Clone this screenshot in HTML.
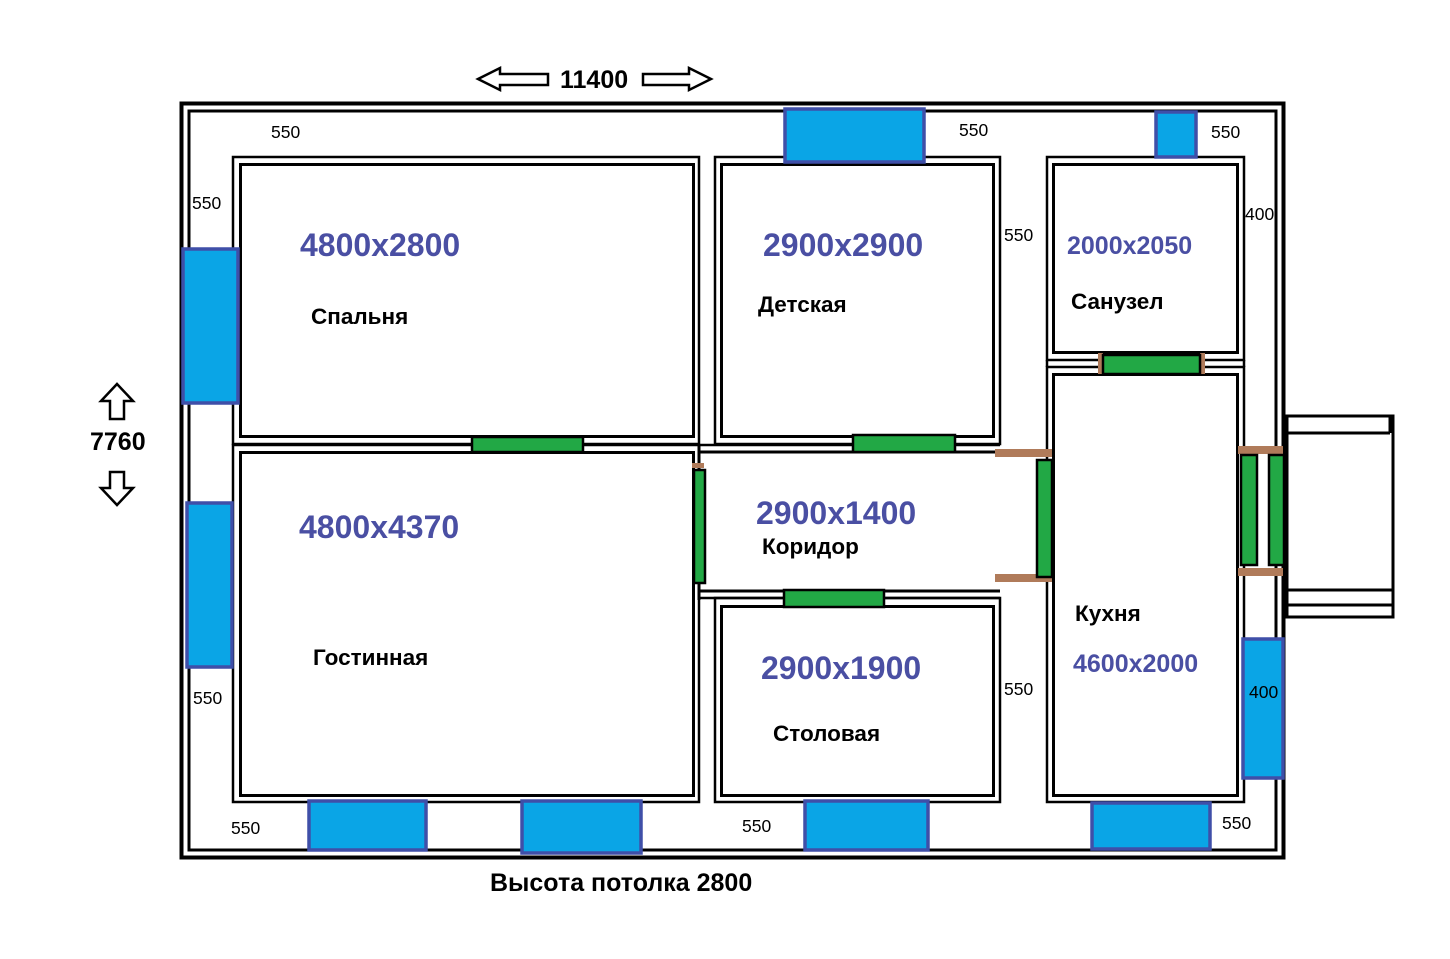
<!DOCTYPE html>
<html><head><meta charset="utf-8"><style>
html,body{margin:0;padding:0;background:#fff;}
svg{display:block;}
.d{font-family:"Liberation Sans",sans-serif;font-weight:bold;fill:#4a4fa3;font-size:32px;}
.n{font-family:"Liberation Sans","DejaVu Sans",sans-serif;font-weight:bold;fill:#000;font-size:22.5px;}
.s{font-family:"Liberation Sans",sans-serif;fill:#000;font-size:17.5px;}
</style></head><body>
<svg width="1450" height="959" viewBox="0 0 1450 959" xmlns="http://www.w3.org/2000/svg">
<g fill="none" stroke="#000">
<rect x="181.5" y="103.5" width="1102" height="754" stroke-width="4"/>
<rect x="189" y="111" width="1087" height="739" stroke-width="3"/>
<rect x="233" y="157" width="466" height="287" stroke-width="2.5"/>
<rect x="240.5" y="164.5" width="453" height="272" stroke-width="3"/>
<rect x="233" y="445" width="466" height="357" stroke-width="2.5"/>
<rect x="240.5" y="452.5" width="453" height="343" stroke-width="3"/>
<rect x="715" y="157" width="285" height="287" stroke-width="2.5"/>
<rect x="721.5" y="164.5" width="272" height="272" stroke-width="3"/>
<rect x="715" y="598" width="285" height="204" stroke-width="2.5"/>
<rect x="721.5" y="606.5" width="272" height="189" stroke-width="3"/>
<rect x="1047" y="157" width="197" height="203" stroke-width="2.5"/>
<rect x="1053.5" y="164.5" width="184" height="188" stroke-width="3"/>
<rect x="1047" y="367" width="197" height="435" stroke-width="2.5"/>
<rect x="1053.5" y="374.5" width="184" height="421" stroke-width="3"/>
<line x1="700" y1="445" x2="1000" y2="445" stroke-width="2.5"/>
<line x1="700" y1="452" x2="1000" y2="452" stroke-width="3"/>
<line x1="700" y1="591" x2="1000" y2="591" stroke-width="3"/>
<line x1="700" y1="598" x2="1000" y2="598" stroke-width="2.5"/>
<line x1="699" y1="445" x2="699" y2="600" stroke-width="3"/>
<line x1="1047" y1="360" x2="1047" y2="367" stroke-width="2.5"/>
<line x1="1244" y1="360" x2="1244" y2="367" stroke-width="2.5"/>
<rect x="1287" y="416" width="106" height="201" stroke-width="3"/>
<line x1="1287" y1="433" x2="1390" y2="433" stroke-width="3"/>
<line x1="1390" y1="416" x2="1390" y2="433" stroke-width="3"/>
<line x1="1287" y1="590" x2="1393" y2="590" stroke-width="3"/>
<line x1="1287" y1="605" x2="1393" y2="605" stroke-width="3"/>
</g>
<rect x="1001" y="457" width="36" height="118" fill="#fff"/>
<g fill="#b07b5a">
<rect x="995" y="449" width="57" height="8"/>
<rect x="995" y="574" width="57" height="8"/>
<rect x="1238" y="446" width="45" height="8"/>
<rect x="1238" y="568" width="45" height="8"/>
<rect x="1098" y="353" width="5" height="21"/>
<rect x="1200" y="353" width="5" height="21"/>
<rect x="692" y="463" width="12" height="5"/>
</g>
<g fill="#22a845" stroke="#000" stroke-width="2.5">
<rect x="472" y="437" width="111" height="15"/>
<rect x="853" y="435" width="102" height="17"/>
<rect x="694" y="470" width="11" height="113"/>
<rect x="784" y="590" width="100" height="17"/>
<rect x="1103" y="355" width="97" height="19"/>
<rect x="1037" y="460" width="15" height="117"/>
<rect x="1241" y="455" width="16" height="110"/>
<rect x="1269" y="455" width="15" height="110"/>
</g>
<g fill="#0aa5e6" stroke="#3f4fa8" stroke-width="3.5">
<rect x="785" y="109" width="139" height="53"/>
<rect x="1156" y="112" width="40" height="45"/>
<rect x="183" y="249" width="55" height="154"/>
<rect x="187" y="503" width="45" height="164"/>
<rect x="1243" y="639" width="40" height="139"/>
<rect x="309" y="801" width="117" height="49"/>
<rect x="522" y="801" width="119" height="52"/>
<rect x="805" y="801" width="123" height="49"/>
<rect x="1092" y="803" width="118" height="46"/>
</g>
<g fill="#fff" stroke="#000" stroke-width="2.5">
<polygon points="478,79 500,68 500,74 548,74 548,85 500,85 500,90"/>
<polygon points="711,79 689,68 689,74 643,74 643,85 689,85 689,90"/>
<polygon points="117,384 133,401 124,401 124,419 110,419 110,401 101,401"/>
<polygon points="117,505 133,488 124,488 124,472 110,472 110,488 101,488"/>
</g>
<text class="n" x="560" y="88" style="font-size:25px">11400</text>
<text class="n" x="90" y="450" style="font-size:25px">7760</text>
<text class="n" x="490" y="891" style="font-size:25px">Высота потолка 2800</text>
<text class="d" x="300" y="256">4800x2800</text>
<text class="d" x="763" y="256">2900x2900</text>
<text class="d" x="1067" y="254" style="font-size:25px">2000x2050</text>
<text class="d" x="299" y="538">4800x4370</text>
<text class="d" x="756" y="524">2900x1400</text>
<text class="d" x="761" y="679">2900x1900</text>
<text class="d" x="1073" y="672" style="font-size:25px">4600x2000</text>
<text class="n" x="311" y="324">Спальня</text>
<text class="n" x="758" y="312">Детская</text>
<text class="n" x="1071" y="309">Санузел</text>
<text class="n" x="762" y="554">Коридор</text>
<text class="n" x="313" y="665">Гостинная</text>
<text class="n" x="773" y="741">Столовая</text>
<text class="n" x="1075" y="621">Кухня</text>
<text class="s" x="271" y="138">550</text>
<text class="s" x="959" y="136">550</text>
<text class="s" x="1211" y="138">550</text>
<text class="s" x="192" y="209">550</text>
<text class="s" x="1004" y="241">550</text>
<text class="s" x="1245" y="220">400</text>
<text class="s" x="193" y="704">550</text>
<text class="s" x="1004" y="695">550</text>
<text class="s" x="1249" y="698">400</text>
<text class="s" x="231" y="834">550</text>
<text class="s" x="742" y="832">550</text>
<text class="s" x="1222" y="829">550</text>
</svg>
</body></html>
